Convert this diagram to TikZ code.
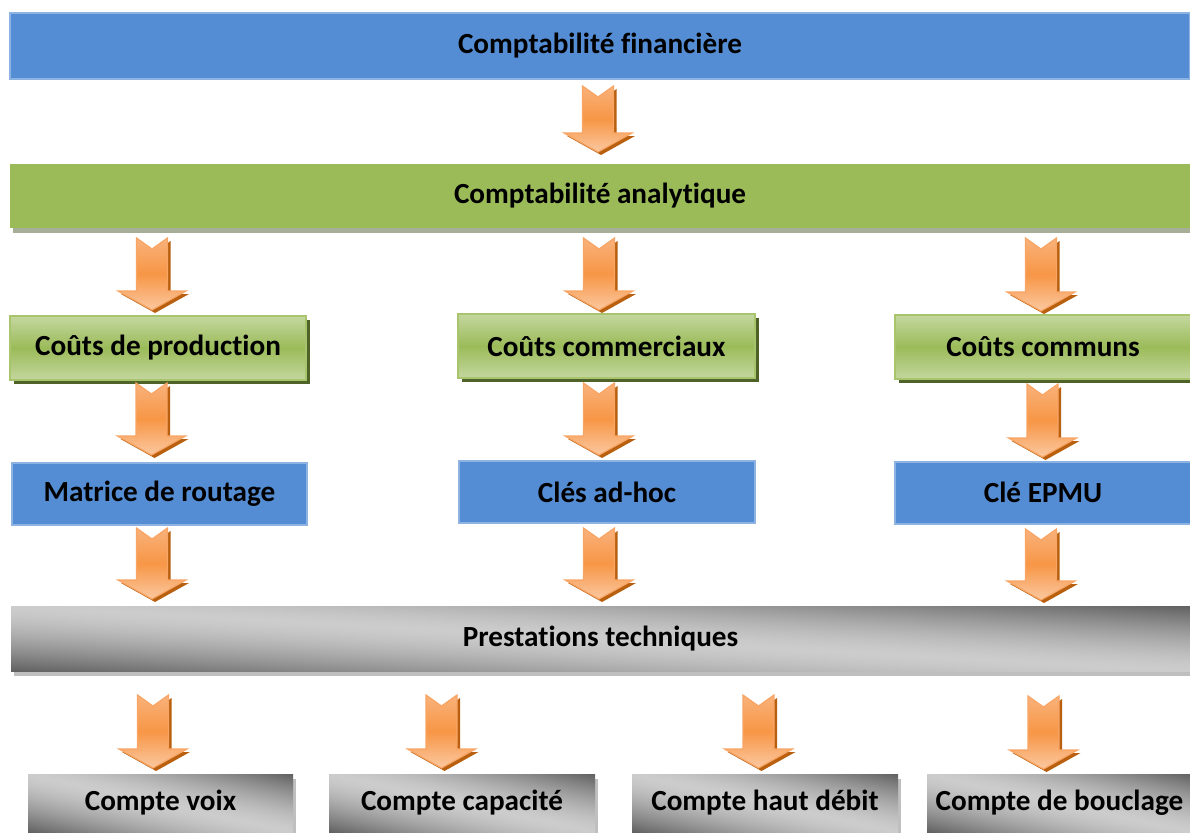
\documentclass[tikz,border=0pt]{standalone}
\usepackage{fontspec}
\setmainfont{Carlito}[Ligatures=NoCommon]
\usetikzlibrary{shadows}
\definecolor{blueF}{HTML}{548DD4}
\definecolor{blueB}{HTML}{8DB3E2}
\definecolor{greenF}{HTML}{9BBB59}
\definecolor{greenL}{HTML}{C4D79F}
\definecolor{greenB}{HTML}{A8C46C}
\definecolor{greenS}{HTML}{4F6228}
\definecolor{greenBarS}{HTML}{A7AE98}
\definecolor{grayS}{HTML}{BFBFBF}
\definecolor{orTop}{HTML}{F9B27B}
\definecolor{orMid}{HTML}{F79646}
\definecolor{orBot}{HTML}{FBC8A0}
\definecolor{orLine}{HTML}{F8A565}
\definecolor{orShadow}{HTML}{B8600F}
% diagonal gray shading: light band from top-left to bottom-right, dark corners
\pgfdeclarefunctionalshading{graydiag}{\pgfpointorigin}{\pgfpoint{100bp}{100bp}}{}{
  add 100 sub abs 50 div dup 1 gt {pop 1} if dup sqrt mul -0.42 mul 0.80 add dup dup
}
\def\arrpath#1{(-15.5,0) -- (0,11) -- (15.5,0) -- (15.5,#1-19) -- (34,#1-19) -- (0,#1) -- (-34,#1-19) -- (-15.5,#1-19) -- cycle}
\tikzset{
  base/.style={inner sep=0pt, outer sep=0pt, align=center,
    font=\bfseries\fontsize{14.6}{17}\selectfont, text=black},
  bluebar/.style={base, fill=blueF, draw=blueB, line width=1pt},
  greenbar/.style={base, fill=greenF,
    general shadow={fill=greenBarS, shadow xshift=1.5pt, shadow yshift=-2.5pt}},
  greenbox/.style={base, top color=greenL, bottom color=greenL, middle color=greenF,
    draw=greenB, line width=1pt,
    general shadow={fill=greenS, shadow xshift=2pt, shadow yshift=-2pt}},
  bluebox/.style={base, fill=blueF, draw=blueB, line width=1pt},
  graybar/.style={base, shade, shading=graydiag,
    general shadow={fill=grayS, shadow xshift=1.5pt, shadow yshift=-2.5pt}},
  pics/barrow/.style={code={
    \fill[orShadow, shift={(3,3)}] \arrpath{#1};
    \shadedraw[top color=orTop, bottom color=orBot, middle color=orMid,
      draw=orLine, line width=0.6pt] \arrpath{#1};
  }}
}
\begin{document}
\begin{tikzpicture}[x=0.5pt, y=-0.5pt]
\useasboundingbox (0,0) rectangle (1190,832);
\clip (0,0) rectangle (1190,832);

% top bars
\node[bluebar, minimum width=590pt, minimum height=33pt] (fin) at (600,46) {Comptabilité financière};
\node[greenbar, minimum width=590pt, minimum height=32pt] (ana) at (600,196) {Comptabilité analytique};

% cost boxes
\node[greenbox, minimum width=148pt, minimum height=32pt] (prod) at (158,348) {\raisebox{-1pt}{Coûts de production}};
\node[greenbox, minimum width=148.5pt, minimum height=32pt] (comm) at (606.5,346) {Coûts commerciaux};
\node[greenbox, minimum width=148pt, minimum height=32pt] (cmn) at (1043,347) {Coûts communs};

% keys
\node[bluebox, minimum width=147.5pt, minimum height=31pt] (rout) at (159.5,494) {Matrice de routage};
\node[bluebox, minimum width=148pt, minimum height=31pt] (adhoc) at (607,492) {Clés ad-hoc};
\node[bluebox, minimum width=148pt, minimum height=31pt] (epmu) at (1043,492.5) {Clé EPMU};

% technical services
\node[graybar, minimum width=589.5pt, minimum height=32.5pt] (prest) at (600.5,638.5) {\raisebox{2pt}{Prestations techniques}};

% accounts
\node[graybar, minimum width=132.5pt, minimum height=29pt] (voix) at (160.5,803) {Compte voix};
\node[graybar, minimum width=133pt, minimum height=29pt] (capa) at (462,803) {Compte capacité};
\node[graybar, minimum width=133pt, minimum height=29pt] (haut) at (765,803) {Compte haut débit};
\node[graybar, minimum width=132.5pt, minimum height=29pt] (boucl) at (1059.5,803) {Compte de bouclage};

% block arrows
\pic at (598,86) {barrow=66};
\pic at (152,238) {barrow=72};
\pic at (599,238) {barrow=72};
\pic at (1041,238) {barrow=73};
\pic at (151.5,383) {barrow=72};
\pic at (599,383) {barrow=72};
\pic at (1042.5,384) {barrow=73};
\pic at (152,528) {barrow=71};
\pic at (599,528) {barrow=71};
\pic at (1041,529) {barrow=71};
\pic at (153,695) {barrow=73};
\pic at (441.5,695) {barrow=73};
\pic at (758.5,695) {barrow=73};
\pic at (1043.5,696) {barrow=73};
\end{tikzpicture}
\end{document}
